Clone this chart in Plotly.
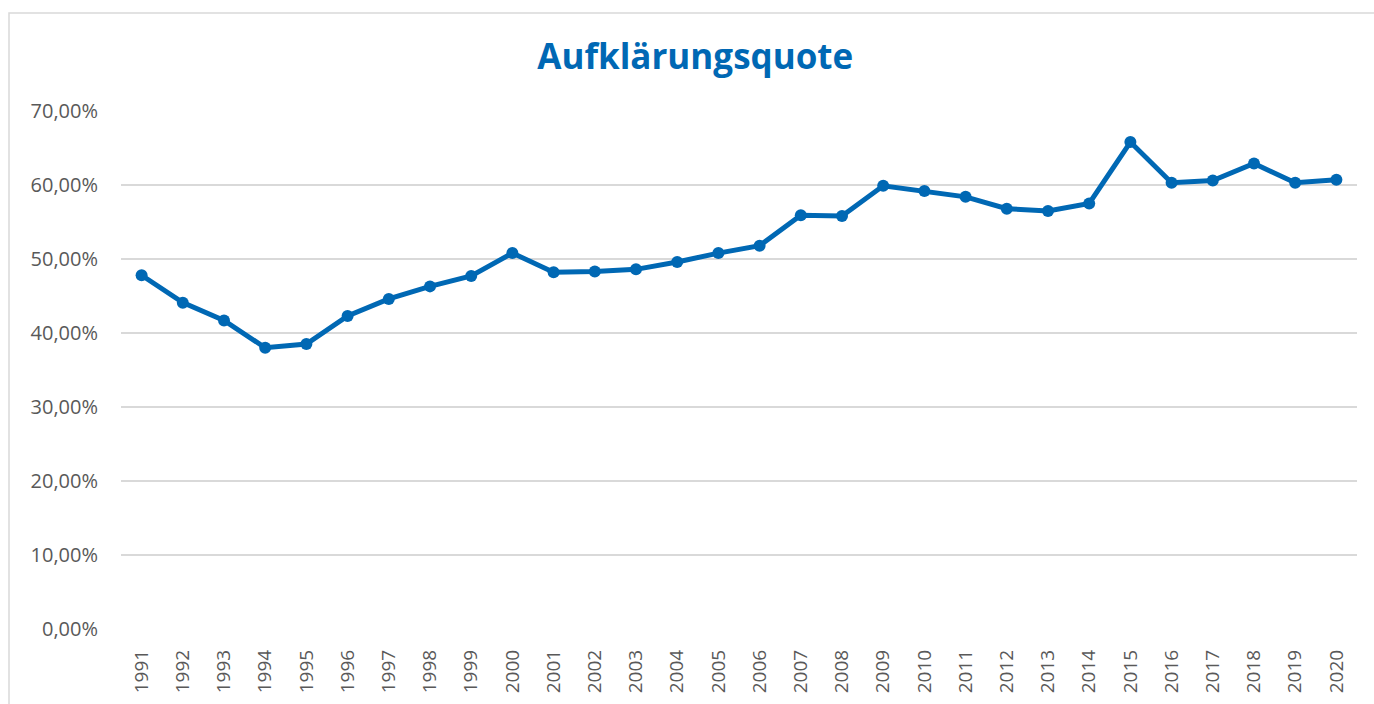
import plotly.graph_objects as go

years = [str(y) for y in range(1991, 2021)]
quote = [47.8, 44.1, 41.7, 38.0, 38.5, 42.3, 44.6, 46.3, 47.7, 50.8,
         48.2, 48.3, 48.6, 49.6, 50.8, 51.8, 55.9, 55.8, 59.9, 59.2,
         58.4, 56.8, 56.5, 57.5, 65.8, 60.3, 60.6, 62.9, 60.3, 60.7]
title_text = "Aufklärungsquote"
y_ticks = [0, 10, 20, 30, 40, 50, 60, 70]
y_tick_text = [f"{v:.2f}".replace(".", ",") + "%" for v in y_ticks]

W, H = 1374, 704
L, R, T, B = 121, 17, 111, 75
pw, ph = W - L - R, H - T - B

fig = go.Figure()
fig.add_trace(go.Scatter(
    x=years, y=quote, mode="lines+markers",
    line=dict(color="#0068B4", width=5),
    marker=dict(color="#0068B4", size=12),
    showlegend=False,
))

fig.update_layout(
    width=W, height=H,
    margin=dict(l=L, r=R, t=T, b=B),
    paper_bgcolor="white", plot_bgcolor="white",
    font=dict(family="Open Sans, Lato, sans-serif", color="#595959", size=18),
    title=dict(text="<b>" + title_text + "</b>", x=0.506, xanchor="center",
               y=1 - 57 / H, yanchor="middle",
               font=dict(size=35, color="#0068B4", family="Open Sans, sans-serif")),
    xaxis=dict(type="category", range=[-0.5, 29.5], tickangle=-90,
               showgrid=False, zeroline=False, showline=False, ticks="",
               tickfont=dict(size=19, color="#595959"), ticklabelstandoff=16),
    yaxis=dict(range=[0, 70], tickvals=y_ticks, ticktext=y_tick_text,
               showgrid=True, gridcolor="#D9D9D9", gridwidth=1.5,
               zeroline=False, showline=False, ticks="",
               tickfont=dict(size=20, color="#595959"), ticklabelstandoff=22),
    shapes=[dict(type="rect", xref="paper", yref="paper",
                 x0=(9 - L) / pw, x1=(W + 5 - L) / pw,
                 y0=-(B + 5) / ph, y1=(H - 13 - B) / ph,
                 line=dict(color="#D9D9D9", width=1.5), layer="below")],
)

fig.write_html("out.html", config={"displayModeBar": False},
               post_script="document.body.style.margin='0';document.body.style.overflow='hidden';")
